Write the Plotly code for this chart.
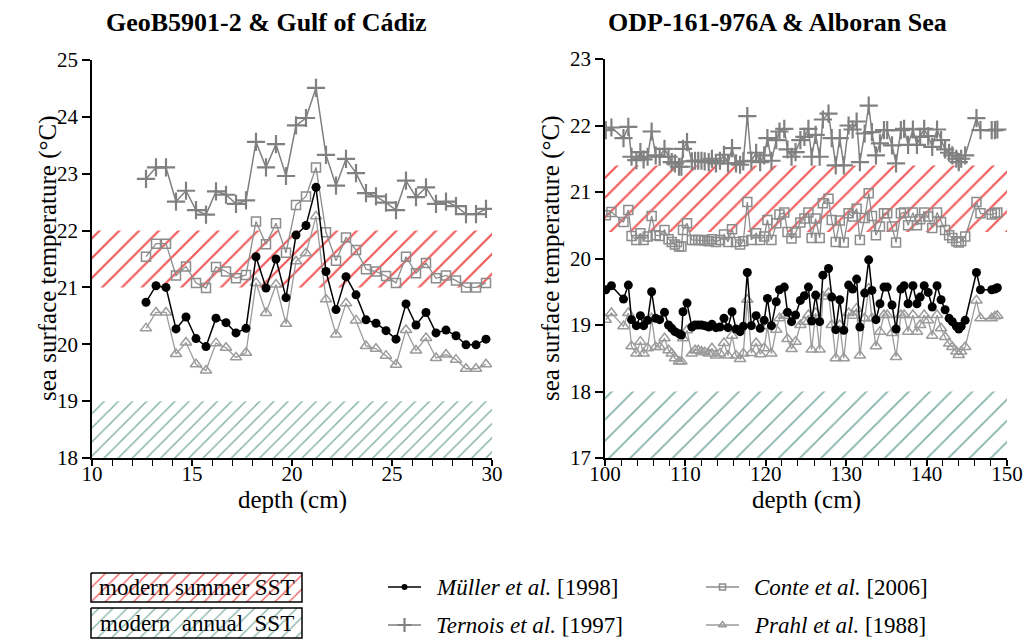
import plotly.graph_objects as go

# ---------------- data ----------------
# GeoB5901-2, Gulf of Cádiz
gc_depth = [12.7, 13.2, 13.7, 14.2, 14.7, 15.2, 15.7, 16.2, 16.7, 17.2, 17.7, 18.2,
            18.7, 19.2, 19.7, 20.2, 20.7, 21.2, 21.7, 22.2, 22.7, 23.2, 23.7, 24.2,
            24.7, 25.2, 25.7, 26.2, 26.7, 27.2, 27.7, 28.2, 28.7, 29.2, 29.7]
gc_muller = [20.74, 21.03, 21.00, 20.27, 20.48, 20.10, 19.96, 20.46, 20.38, 20.20, 20.28, 21.54,
             20.99, 21.50, 20.82, 21.92, 22.09, 22.76, 21.28, 20.61, 21.19, 20.87, 20.43, 20.37,
             20.24, 20.09, 20.71, 20.34, 20.56, 20.20, 20.25, 20.15, 19.99, 19.99, 20.09]
gc_ternois = [22.91, 23.11, 23.11, 22.51, 22.70, 22.36, 22.28, 22.69, 22.63, 22.47, 22.53, 23.56,
              23.11, 23.52, 22.96, 23.85, 23.98, 24.51, 23.33, 22.79, 23.26, 23.01, 22.66, 22.60,
              22.49, 22.36, 22.88, 22.59, 22.76, 22.47, 22.51, 22.43, 22.29, 22.29, 22.38]
gc_conte = [21.54, 21.77, 21.77, 21.21, 21.37, 21.08, 20.99, 21.36, 21.28, 21.16, 21.22, 22.16,
            21.76, 22.13, 21.61, 22.45, 22.60, 23.11, 21.97, 21.47, 21.88, 21.66, 21.32, 21.28,
            21.20, 21.08, 21.54, 21.25, 21.43, 21.16, 21.21, 21.12, 21.00, 21.00, 21.08]
gc_prahl = [20.28, 20.56, 20.56, 19.83, 20.03, 19.65, 19.54, 20.02, 19.94, 19.77, 19.85, 21.08,
            20.55, 21.05, 20.36, 21.46, 21.60, 22.25, 20.79, 20.17, 20.72, 20.42, 19.97, 19.92,
            19.80, 19.64, 20.25, 19.89, 20.11, 19.76, 19.82, 19.73, 19.57, 19.57, 19.65]
gc_summer = [21.0, 22.0]
gc_annual = [18.0, 19.0]

# ODP-161-976A, Alboran Sea
al_depth = [100.1, 100.8, 102.3, 102.9, 103.3, 103.9, 104.4, 104.8, 105.3, 105.8, 106.3, 106.8,
            107.4, 107.9, 108.3, 108.7, 109.2, 109.5, 109.7, 110.2, 110.8, 111.2, 111.6, 112.0,
            112.4, 112.9, 113.3, 113.8, 114.3, 114.8, 115.3, 115.8, 116.3,
            116.8, 117.2, 117.7, 118.2, 118.8, 119.3, 119.8, 120.2, 120.7, 121.3, 121.7, 122.3,
            122.7, 123.2, 123.7, 124.3, 124.8, 125.3, 125.7, 126.2, 126.7, 127.1, 127.8, 128.2,
            128.7, 129.2, 129.7, 130.3, 130.8, 131.3, 131.7, 132.3, 132.8, 133.2,
            133.7, 134.2, 134.7, 135.1, 135.7, 136.2, 136.8, 137.2, 137.7, 138.3, 138.8, 139.2,
            139.7, 140.2, 140.7, 141.3, 141.8, 142.3, 142.8, 143.2, 143.7, 144.0, 144.3, 144.8,
            146.2, 146.7, 148.1, 148.5, 148.8]
al_muller = [19.53, 19.59, 19.39, 19.60, 19.08, 18.99, 19.14, 18.99, 19.07, 19.50, 19.10, 19.08,
             19.19, 19.00, 18.95, 18.90, 18.87, 18.85, 19.20, 19.33, 18.97, 19.00, 19.00, 19.00,
             18.99, 18.97, 19.01, 18.96, 18.97, 19.10, 18.96, 19.20, 18.94,
             18.90, 18.98, 19.79, 18.99, 19.14, 18.95, 19.07, 19.40, 18.99, 19.35, 19.53, 19.57,
             19.19, 19.05, 19.15, 19.37, 19.44, 19.57, 19.06, 19.45, 19.05, 19.75, 19.85, 19.42,
             18.93, 19.38, 18.92, 19.60, 19.54, 19.69, 18.97, 19.48, 19.98, 19.52,
             19.08, 19.32, 19.57, 19.57, 19.30, 18.94, 19.54, 19.59, 19.32, 19.59, 19.32, 19.42,
             19.59, 19.49, 19.27, 19.59, 19.38, 19.23, 19.10, 19.05, 18.98, 18.94, 18.98, 19.07,
             19.79, 19.53, 19.53, 19.54, 19.56]
al_ternois = [21.93, 21.97, 21.81, 21.98, 21.53, 21.48, 21.60, 21.49, 21.53, 21.91, 21.55, 21.53,
              21.65, 21.53, 21.45, 21.43, 21.38, 21.38, 21.65, 21.75, 21.46, 21.47, 21.47, 21.47,
              21.46, 21.45, 21.50, 21.43, 21.47, 21.56, 21.43, 21.66, 21.43,
              21.41, 21.46, 22.14, 21.47, 21.59, 21.45, 21.55, 21.81, 21.47, 21.78, 21.91, 21.95,
              21.64, 21.53, 21.60, 21.78, 21.83, 21.95, 21.53, 21.86, 21.53, 22.09, 22.18, 21.81,
              21.40, 21.81, 21.40, 22.00, 21.94, 22.06, 21.45, 21.88, 22.30, 21.90,
              21.55, 21.73, 21.93, 21.93, 21.70, 21.43, 21.93, 21.95, 21.71, 21.94, 21.71, 21.83,
              21.95, 21.84, 21.68, 21.94, 21.78, 21.64, 21.59, 21.55, 21.50, 21.45, 21.50, 21.55,
              22.11, 21.93, 21.93, 21.93, 21.94]
al_conte = [20.65, 20.70, 20.55, 20.73, 20.34, 20.28, 20.38, 20.28, 20.33, 20.64, 20.35, 20.34,
            20.43, 20.29, 20.25, 20.21, 20.18, 20.18, 20.43, 20.53, 20.28, 20.28, 20.28, 20.28,
            20.27, 20.26, 20.29, 20.25, 20.28, 20.36, 20.25, 20.44, 20.25,
            20.21, 20.26, 20.85, 20.28, 20.38, 20.28, 20.33, 20.58, 20.28, 20.53, 20.66, 20.69,
            20.40, 20.30, 20.39, 20.54, 20.60, 20.69, 20.31, 20.60, 20.31, 20.83, 20.90, 20.58,
            20.25, 20.57, 20.24, 20.68, 20.63, 20.75, 20.28, 20.61, 20.98, 20.64,
            20.35, 20.48, 20.68, 20.68, 20.48, 20.24, 20.68, 20.69, 20.50, 20.69, 20.50, 20.59,
            20.69, 20.63, 20.46, 20.69, 20.55, 20.43, 20.35, 20.31, 20.26, 20.24, 20.26, 20.33,
            20.85, 20.68, 20.66, 20.68, 20.69]
al_prahl = [19.08, 19.18, 18.98, 19.18, 18.68, 18.57, 18.75, 18.57, 18.65, 19.10, 18.67, 18.67,
            18.80, 18.62, 18.57, 18.50, 18.45, 18.45, 18.80, 18.92, 18.57, 18.62, 18.62, 18.60,
            18.59, 18.57, 18.65, 18.54, 18.57, 18.73, 18.54, 18.84, 18.54,
            18.49, 18.57, 19.38, 18.58, 18.73, 18.56, 18.65, 18.98, 18.57, 18.93, 19.10, 19.14,
            18.79, 18.64, 18.75, 19.00, 19.05, 19.15, 18.63, 19.18, 18.63, 19.43, 19.48, 19.00,
            18.50, 19.00, 18.50, 19.18, 19.14, 19.25, 18.54, 19.10, 19.55, 19.10,
            18.68, 18.90, 19.15, 19.15, 18.88, 18.52, 19.15, 19.15, 18.90, 19.15, 18.90, 19.00,
            19.15, 19.07, 18.84, 19.15, 18.95, 18.82, 18.72, 18.67, 18.60, 18.55, 18.60, 18.67,
            19.37, 19.10, 19.10, 19.13, 19.14]
al_summer = [20.4, 21.4]
al_annual = [17.0, 18.0]

panel_titles = ["GeoB5901-2 & Gulf of Cádiz", "ODP-161-976A & Alboran Sea"]
series_names = ["<i>Müller et al.</i> [1998]", "<i>Ternois et al.</i> [1997]",
                "<i>Conte et al.</i> [2006]", "<i>Prahl et al.</i> [1988]"]
band_names = ["modern summer SST", "modern&nbsp; annual&nbsp; SST"]

# ---------------- styles ----------------
SERIF = "Liberation Serif"
RED = "rgb(240,92,92)"
TEAL = "rgb(128,176,166)"
GRAY = "rgb(128,128,128)"
GRAY2 = "rgb(140,140,140)"
GRAY3 = "rgb(155,155,155)"

styles = {
    "muller": dict(line=dict(color="black", width=1.5),
                   marker=dict(symbol="circle", size=9, color="black")),
    "ternois": dict(line=dict(color=GRAY, width=1.5),
                    marker=dict(symbol="cross-thin", size=13, color=GRAY,
                                line=dict(color=GRAY, width=2.2))),
    "conte": dict(line=dict(color=GRAY2, width=1.3),
                  marker=dict(symbol="square-open", size=9, color=GRAY2,
                              line=dict(color=GRAY2, width=1.5))),
    "prahl": dict(line=dict(color=GRAY3, width=1.3),
                  marker=dict(symbol="triangle-up-open", size=10, color=GRAY3,
                              line=dict(color=GRAY3, width=1.5))),
}

fig = go.Figure()


def band(xr, yr, color, size, solidity, xa, ya, edge=None):
    x0, x1 = xr
    y0, y1 = yr
    fig.add_trace(go.Scatter(
        x=[x0, x1, x1, x0, x0], y=[y0, y0, y1, y1, y0],
        mode="lines", fill="toself", fillcolor="white",
        fillpattern=dict(shape="/", fgcolor=color, bgcolor="white",
                         size=size, solidity=solidity),
        line=dict(width=1.5 if edge else 0, color=edge or "rgba(0,0,0,0)"),
        xaxis=xa, yaxis=ya, showlegend=False, hoverinfo="skip"))


def series(x, y, key, xa, ya):
    fig.add_trace(go.Scatter(x=x, y=y, mode="lines+markers", xaxis=xa, yaxis=ya,
                             showlegend=False, hoverinfo="skip", **styles[key]))


# left panel
band((10, 30), gc_summer, RED, 14, 0.16, "x", "y")
band((10, 30), gc_annual, TEAL, 10, 0.14, "x", "y")
series(gc_depth, gc_prahl, "prahl", "x", "y")
series(gc_depth, gc_conte, "conte", "x", "y")
series(gc_depth, gc_ternois, "ternois", "x", "y")
series(gc_depth, gc_muller, "muller", "x", "y")

# right panel
band((100, 150), al_summer, RED, 14, 0.16, "x2", "y2")
band((100, 150), al_annual, TEAL, 15, 0.11, "x2", "y2")
series(al_depth, al_prahl, "prahl", "x2", "y2")
series(al_depth, al_conte, "conte", "x2", "y2")
series(al_depth, al_ternois, "ternois", "x2", "y2")
series(al_depth, al_muller, "muller", "x2", "y2")

# ---------------- key (pixel coordinates on a hidden axis) ----------------
band((91, 302), (573, 602), RED, 10, 0.13, "x3", "y3", edge="black")
band((91, 302), (608, 638), TEAL, 10, 0.12, "x3", "y3", edge="black")

key_rows = [("muller", 388, 587), ("ternois", 388, 625),
            ("conte", 706, 587), ("prahl", 706, 625)]
for (key, kx, ky), name in zip(key_rows, series_names):
    st = styles[key]
    mk = dict(st["marker"])
    mk["size"] = max(mk["size"] - 3, 6)
    fig.add_trace(go.Scatter(x=[kx, kx + 33], y=[ky, ky], mode="lines", line=st["line"],
                             xaxis="x3", yaxis="y3", showlegend=False, hoverinfo="skip"))
    fig.add_trace(go.Scatter(x=[kx + 16.5], y=[ky], mode="markers", marker=mk,
                             xaxis="x3", yaxis="y3", showlegend=False, hoverinfo="skip"))
    fig.add_annotation(x=kx + 46, y=ky, xref="x3", yref="y3", text=name, showarrow=False,
                       xanchor="left", yanchor="middle", font=dict(family=SERIF, size=23, color="black"))

for name, cy in zip(band_names, [587.5, 623]):
    fig.add_annotation(x=196.5, y=cy, xref="x3", yref="y3", text=name, showarrow=False,
                       xanchor="center", yanchor="middle", font=dict(family=SERIF, size=23, color="black"))

# ---------------- axes ----------------
W, H = 1024, 639


def px_dom_x(a, b):
    return [a / W, b / W]


def px_dom_y(top, bottom):
    return [1 - bottom / H, 1 - top / H]


axis_common = dict(showline=True, linecolor="black", linewidth=1.5, ticks="outside",
                   tickcolor="black", tickwidth=1.5, showgrid=False, zeroline=False,
                   automargin=False,
                   tickfont=dict(family=SERIF, size=21, color="black"), mirror=False)

fig.update_layout(
    template="none",
    font=dict(family=SERIF, color="black"),
    width=W, height=H, margin=dict(l=0, r=0, t=0, b=0, pad=0), autosize=False,
    paper_bgcolor="white", plot_bgcolor="rgba(0,0,0,0)", hovermode=False,
    xaxis=dict(domain=px_dom_x(92, 492), range=[10, 30], tickvals=[10, 15, 20, 25, 30], ticklen=6,
               ticklabelstandoff=-10,
               minor=dict(dtick=1, ticks="outside", ticklen=6, tickcolor="black", tickwidth=1.2),
               anchor="y", **axis_common),
    yaxis=dict(domain=px_dom_y(60, 458), range=[18, 25], dtick=1, ticklen=8, anchor="x", **axis_common),
    xaxis2=dict(domain=px_dom_x(605, 1007), range=[100, 150], dtick=10, ticklen=6,
                ticklabelstandoff=-10,
                minor=dict(dtick=2, ticks="outside", ticklen=6, tickcolor="black", tickwidth=1.2),
                anchor="y2", **axis_common),
    yaxis2=dict(domain=px_dom_y(59, 458), range=[17, 23], dtick=1, ticklen=8, anchor="x2", **axis_common),
    xaxis3=dict(domain=[0, 1], range=[0, W], visible=False, anchor="y3", automargin=False),
    yaxis3=dict(domain=[0, 1], range=[H, 0], visible=False, anchor="x3", automargin=False),
)

# panel titles and axis titles
for title, cx in zip(panel_titles, [266, 777]):
    fig.add_annotation(x=cx / W, y=1 - 23 / H, xref="paper", yref="paper", text=f"<b>{title}</b>",
                       showarrow=False, xanchor="center", yanchor="middle",
                       font=dict(family=SERIF, size=26, color="black"))

for cx in [48, 551]:
    fig.add_annotation(x=cx / W, y=1 - 258 / H, xref="paper", yref="paper",
                       text="sea surface temperature (°C)", textangle=-90, showarrow=False,
                       xanchor="center", yanchor="middle",
                       font=dict(family=SERIF, size=25, color="black"))

for cx in [292, 806]:
    fig.add_annotation(x=cx / W, y=1 - 500 / H, xref="paper", yref="paper", text="depth (cm)",
                       showarrow=False, xanchor="center", yanchor="middle",
                       font=dict(family=SERIF, size=25, color="black"))

fig.write_html("out.html")
